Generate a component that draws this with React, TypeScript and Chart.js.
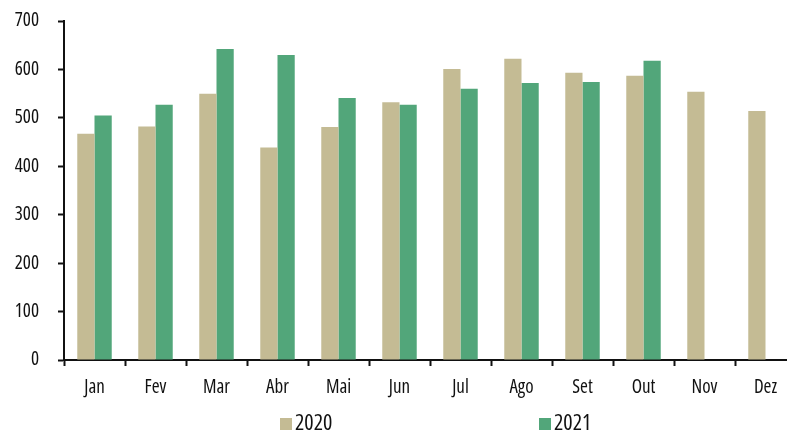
import { useEffect, useRef } from "react";
import { Chart, registerables } from "chart.js";

Chart.register(...registerables);

const months = ["Jan", "Fev", "Mar", "Abr", "Mai", "Jun", "Jul", "Ago", "Set", "Out", "Nov", "Dez"];
const values2020 = [467, 482, 550, 439, 481, 532, 601, 622, 593, 587, 554, 514];
const values2021 = [505, 527, 642, 630, 541, 527, 560, 572, 574, 618, null, null];
const yTicks = [0, 100, 200, 300, 400, 500, 600, 700];

const COLOR_2020 = "#C4BB94";
const COLOR_2021 = "#52A67A";
const TEXT_COLOR = "#111";
const FAMILY = "'Open Sans', sans-serif";
// canvas font shorthand ends up as "normal 500 semi-condensed 19px 'Open Sans'"
const tickFont = { family: FAMILY, size: 19, style: "normal", weight: "500 semi-condensed" } as any;

export default function App() {
  const canvasRef = useRef<HTMLCanvasElement>(null);
  const chartRef = useRef<Chart | null>(null);

  useEffect(() => {
    if (!canvasRef.current) return;
    if (chartRef.current) chartRef.current.destroy();

    chartRef.current = new Chart(canvasRef.current, {
      type: "bar",
      data: {
        labels: months,
        datasets: [
          { label: "2020", data: values2020, backgroundColor: COLOR_2020, borderWidth: 0 },
          { label: "2021", data: values2021 as any, backgroundColor: COLOR_2021, borderWidth: 0 },
        ],
      },
      options: {
        animation: false,
        responsive: false,
        maintainAspectRatio: false,
        layout: { padding: { top: 21, left: 0, right: 0, bottom: 0 } },
        datasets: {
          bar: { categoryPercentage: 0.565, barPercentage: 1 },
        },
        plugins: {
          legend: { display: false },
          tooltip: { enabled: false },
        },
        scales: {
          x: {
            grid: {
              display: true,
              drawOnChartArea: false,
              drawTicks: true,
              tickLength: 6,
              tickWidth: 2,
              color: TEXT_COLOR,
              offset: true,
            },
            border: { display: true, color: TEXT_COLOR, width: 2 },
            ticks: {
              color: TEXT_COLOR,
              font: tickFont,
              padding: 10,
              maxRotation: 0,
            },
            afterFit: (scale: any) => {
              scale.height = 70;
              scale.paddingLeft = 0;
              scale.paddingRight = 0;
            },
          },
          y: {
            min: 0,
            max: 700,
            afterBuildTicks: (scale: any) => {
              scale.ticks = yTicks.map((v) => ({ value: v }));
            },
            grid: {
              display: true,
              drawOnChartArea: false,
              drawTicks: true,
              tickLength: 6,
              tickWidth: 2,
              color: TEXT_COLOR,
            },
            border: { display: true, color: TEXT_COLOR, width: 2 },
            ticks: {
              color: TEXT_COLOR,
              font: tickFont,
              padding: 19,
            },
            afterFit: (scale: any) => {
              scale.width = 64;
              scale.paddingTop = 0;
              scale.paddingBottom = 0;
            },
          },
        },
      },
    });

    return () => {
      if (chartRef.current) {
        chartRef.current.destroy();
        chartRef.current = null;
      }
    };
  }, []);

  const legendItem = (label: string, color: string, left: number) => (
    <div
      style={{
        position: "absolute",
        left,
        top: 410,
        display: "flex",
        alignItems: "center",
        fontFamily: FAMILY,
        fontStretch: "semi-condensed",
        fontWeight: 500,
        fontSize: 22,
        color: TEXT_COLOR,
        lineHeight: "22px",
      }}
    >
      <span style={{ display: "inline-block", width: 12, height: 12, background: color, marginRight: 3, marginTop: 6 }} />
      <span>{label}</span>
    </div>
  );

  return (
    <div
      style={{
        position: "fixed",
        left: 0,
        top: 0,
        width: 787,
        height: 430,
        overflow: "hidden",
        background: "#fff",
      }}
    >
      <canvas ref={canvasRef} width={796} height={430} style={{ display: "block", width: 796, height: 430 }} />
      {legendItem("2020", COLOR_2020, 280)}
      {legendItem("2021", COLOR_2021, 539)}
    </div>
  );
}
